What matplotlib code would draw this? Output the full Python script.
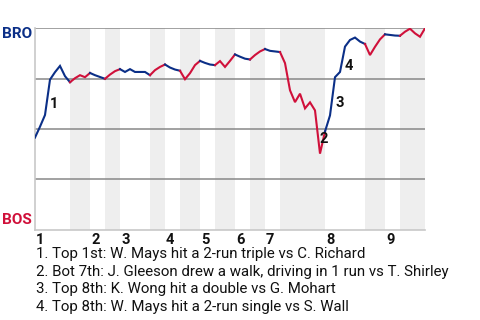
import numpy as np
import matplotlib.pyplot as plt

plt.rcParams['font.family'] = ['Roboto', 'DejaVu Sans']

# BRO win probability (%) after each plate appearance
win_prob = [45.7, 51.1, 56.9, 74.5, 78.2, 81.3, 76.2, 73.2, 75.2, 76.7,
            75.7, 77.8, 76.7, 75.8, 74.9, 77.0, 78.7, 79.7, 78.3, 79.7,
            78.3, 78.3, 78.3, 76.7, 79.2, 80.8, 82.0, 80.5, 79.5, 78.9,
            74.7, 77.7, 81.7, 83.8, 82.8, 82.0, 81.7, 83.7, 80.8, 83.8,
            87.0, 85.9, 84.9, 84.5, 86.7, 88.5, 89.7, 88.8, 88.5, 88.2,
            82.7, 69.2, 63.3, 67.5, 60.2, 63.2, 59.2, 37.7, 48.7, 56.7,
            75.7, 78.3, 90.9, 94.2, 95.4, 93.4, 92.2, 86.7, 90.8, 94.5,
            97.0, 96.7, 96.4, 96.3, 98.3, 99.8, 97.5, 95.8, 100.0]

# plate appearance index where each half inning starts (last = game end)
half_bounds = [0, 7, 11, 14, 17, 23, 26, 29, 33, 36, 40, 43, 46, 49, 58, 66, 70, 73, 78]
innings = ['1', '2', '3', '4', '5', '6', '7', '8', '9']

# biggest plays: plate appearance index and marker label
key_plays = [3, 57, 60, 62]
key_labels = ['1', '2', '3', '4']
descriptions = [
    '1. Top 1st: W. Mays hit a 2-run triple vs C. Richard',
    '2. Bot 7th: J. Gleeson drew a walk, driving in 1 run vs T. Shirley',
    '3. Top 8th: K. Wong hit a double vs G. Mohart',
    '4. Top 8th: W. Mays hit a 2-run single vs S. Wall',
]

BLUE = '#0b2f87'
RED = '#d0103a'
W, H = 480, 320

fig = plt.figure(figsize=(W / 100, H / 100), dpi=100)
ax = fig.add_axes([35 / W, 1 - 229.5 / H, 390 / W, (229.5 - 28.3) / H])

n = len(win_prob) - 1
ax.set_xlim(0, n)
ax.set_ylim(0, 100)

# shade the bottom halves
for i in range(1, len(half_bounds) - 1, 2):
    ax.axvspan(half_bounds[i], half_bounds[i + 1], color='#eeeeee', lw=0, zorder=0)

for y in [25, 50, 75, 100]:
    ax.axhline(y, color='#888888', lw=1.1, zorder=1)

# win probability line, blue while BRO bats, red while BOS bats
wp = np.array(win_prob)
for h in range(len(half_bounds) - 1):
    s, e = half_bounds[h], half_bounds[h + 1]
    xs = np.arange(s, e + 1)
    ax.plot(xs, wp[s:e + 1], color=BLUE if h % 2 == 0 else RED, lw=1.5,
            solid_joinstyle='miter', zorder=3)

for k, lab in zip(key_plays, key_labels):
    ax.annotate(lab, xy=(k - 0.5, (wp[k - 1] + wp[k]) / 2), xytext=(2.5, -7),
                textcoords='offset pixels', ha='left', va='center',
                fontsize=10.5, fontweight='bold', color='#111111', zorder=4)

for inn, s in zip(innings, half_bounds[0::2]):
    ax.annotate(inn, xy=(s, 0), xycoords=('data', 'axes fraction'), xytext=(1, -3),
                textcoords='offset pixels', ha='left', va='top',
                fontsize=10.5, fontweight='bold', color='#111111')

for side in ['top', 'right']:
    ax.spines[side].set_visible(False)
for side in ['left', 'bottom']:
    ax.spines[side].set_color('#c8c8c8')
    ax.spines[side].set_linewidth(1.2)
ax.set_xticks([])
ax.set_yticks([])

fig.text(32 / W, 1 - 34.5 / H, 'BRO', ha='right', va='center', color=BLUE,
         fontsize=11, fontweight='bold')
fig.text(32 / W, 1 - 220 / H, 'BOS', ha='right', va='center', color=RED,
         fontsize=11, fontweight='bold')

for i, d in enumerate(descriptions):
    fig.text(35.5 / W, 1 - (254 + 17.6 * i) / H, d, ha='left', va='center',
             fontsize=10.8, color='#111111')

fig.savefig('out.png', dpi=100)
